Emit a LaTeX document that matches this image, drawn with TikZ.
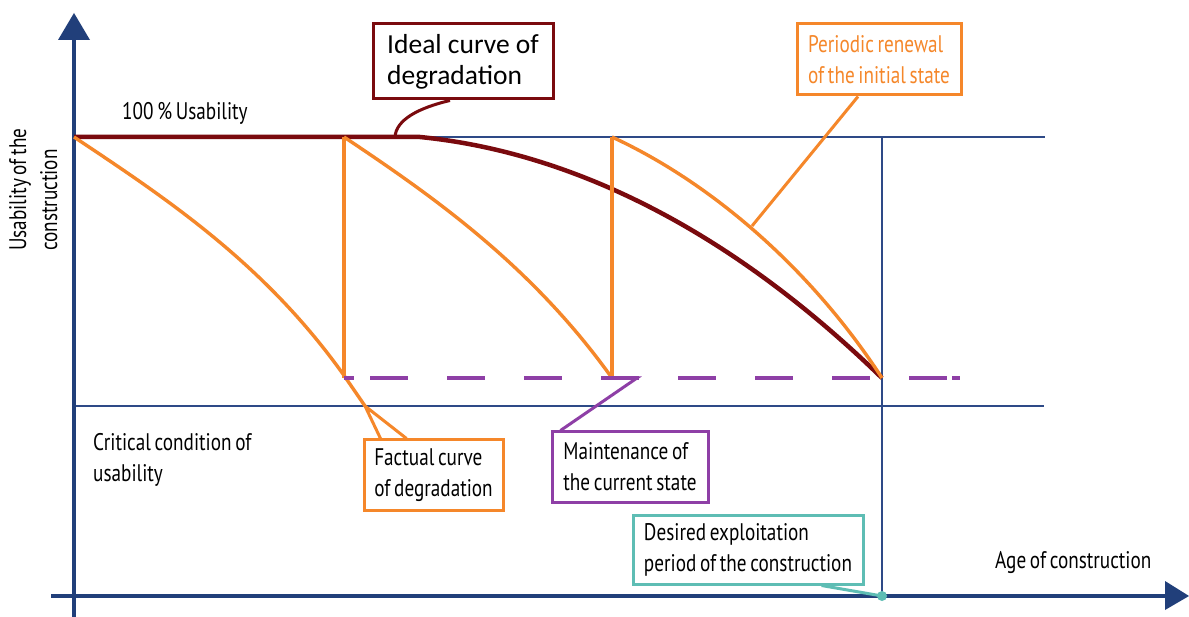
\documentclass[tikz,border=0pt]{standalone}
\usepackage{fontspec}
\newfontfamily\condf[FakeStretch=0.8,WordSpace=0.72]{PT Sans}
\newfontfamily\calf{Carlito}
\definecolor{axisblue}{HTML}{213F7A}
\definecolor{lineblue}{HTML}{2E4A87}
\definecolor{darkred}{HTML}{7A0A0E}
\definecolor{orng}{HTML}{F5872A}
\definecolor{purp}{HTML}{8E3FA6}
\definecolor{tealc}{HTML}{5EBDB4}
\tikzset{
  lbl/.style={font=\condf\fontsize{24}{31}\selectfont, inner sep=0pt, align=left},
  callout/.style={draw, line width=3pt, fill=white, inner sep=0pt, align=left, font=\condf\fontsize{24}{31}\selectfont},
  thinblue/.style={draw=lineblue, line width=2.5pt},
  orangeline/.style={draw=orng, line width=3.4pt, line join=miter},
}
\begin{document}
\begin{tikzpicture}[x=1pt,y=-1pt]
\useasboundingbox (0,0) rectangle (1189,617);
\fill[white] (0,0) rectangle (1189,617);
% key points
\coordinate (A0) at (74,137);
\coordinate (A1) at (344,137);
\coordinate (A2) at (612,137);
\coordinate (B1) at (344,378);
\coordinate (B2) at (612,378);
\coordinate (E) at (882,378);
\coordinate (R0) at (420,137);
\coordinate (F1) at (365,406);
\coordinate (P3) at (752,226);
\coordinate (D) at (882,596);
% reference lines
\draw[thinblue] (74,137) -- (1045,137);
\draw[thinblue] (74,406) -- (1044,406);
\draw[draw=lineblue, line width=2.8pt] (882,137) -- (D);
% axes
\draw[draw=axisblue, line width=4pt] (74,617) -- (74,38);
\fill[axisblue] (58,40) -- (90,40) -- (74,13) -- cycle;
\draw[draw=axisblue, line width=4pt] (51,596) -- (1167,596);
\fill[axisblue] (1165,581) -- (1165,610) -- (1189,596) -- cycle;
% ideal curve
\draw[draw=darkred, line width=4.5pt] (A0) -- (R0) .. controls (570,152) and (728,228) .. (E);
% factual curves
\draw[orangeline] (A0) .. controls (164,197) and (263,262) .. (343,374) -- (F1);
\draw[orangeline] (A1) -- (B1);
\draw[orangeline] (A1) .. controls (434,197) and (532,266) .. (B2);
\draw[orangeline] (A2) -- (B2);
\draw[orangeline] (A2) .. controls (712,183) and (812,270) .. (E);
% maintenance dashed
\draw[draw=purp, line width=4pt, dash pattern=on 38pt off 39pt] (370,378) -- (947,378);
\draw[draw=purp, line width=4pt] (344,378) -- (354,378);
\draw[draw=purp, line width=4pt] (952,378) -- (960,378);
% texts
\node[lbl, anchor=base west] (full) at (122,120) {100 \% Usability};
\node[lbl, rotate=90, anchor=north west] (ylab) at (9,251) {Usability of the\\construction};
\node[lbl, anchor=north west] (crit) at (93,433) {Critical condition of\\usability};
\node[lbl, anchor=base west] (xlab) at (995,568) {Age of construction};
% callouts
\node[callout, draw=darkred, font=\calf\fontsize{27.5}{31}\selectfont, minimum width=180pt, minimum height=75pt] (ideal) at (463,61.5) {Ideal curve of\\degradation};
\node[callout, draw=orng, text=orng, minimum width=164pt, minimum height=71pt] (renew) at (879,59.5) {Periodic renewal\\of the initial state};
\node[callout, draw=orng, minimum width=139pt, minimum height=70pt] (fact) at (433.5,475) {Factual curve\\of degradation};
\node[callout, draw=purp, minimum width=156pt, minimum height=70pt] (maint) at (630,467) {Maintenance of\\the current state};
\node[callout, draw=tealc, minimum width=230pt, minimum height=69pt] (desired) at (748,549.5) {Desired exploitation\\period of the construction};
% leaders
\draw[draw=darkred, line width=3pt] ([xshift=-13pt]ideal.south) .. controls (418,108) and (396,120) .. (395,137);
\draw[draw=orng, line width=3pt] ([xshift=-21pt]renew.south) -- (P3);
\draw[draw=orng, line width=3pt] ([xshift=18pt]fact.north west) -- (F1) -- ([xshift=44pt]fact.north west);
\draw[draw=purp, line width=3pt] ([xshift=10pt]maint.north west) -- (637,378) -- (B2);
\draw[draw=tealc, line width=3pt] ([xshift=-43pt]desired.south east) -- (D);
\fill[tealc] (D) circle (5pt);
\end{tikzpicture}
\end{document}
